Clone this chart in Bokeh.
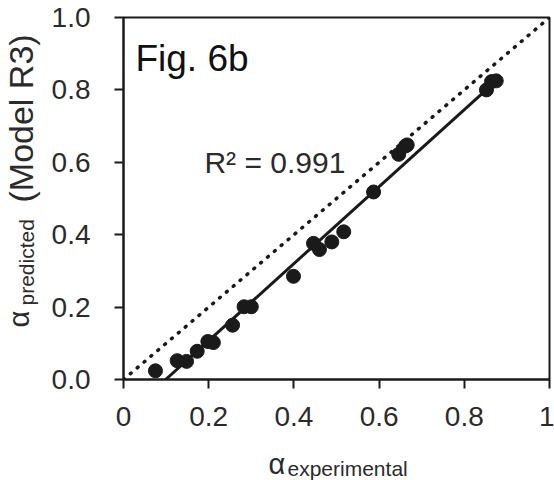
import math
from bokeh.plotting import figure
from bokeh.models import Range1d, FixedTicker, Label
from bokeh.layouts import row, column
from bokeh.embed import file_html
from bokeh.resources import INLINE

# ---- data ----
alpha_experimental = [0.075, 0.126, 0.148, 0.173, 0.198, 0.211, 0.256, 0.283, 0.300,
                      0.399, 0.446, 0.460, 0.489, 0.517, 0.587, 0.646, 0.662, 0.666,
                      0.852, 0.864, 0.875]
alpha_predicted = [0.024, 0.052, 0.050, 0.078, 0.105, 0.102, 0.150, 0.201, 0.201,
                   0.285, 0.376, 0.359, 0.380, 0.408, 0.518, 0.622, 0.645, 0.648,
                   0.800, 0.823, 0.825]
fit_x = [0.099, 0.871]
fit_y = [0.0, 0.821]
parity_x = [0.0, 1.0]
parity_y = [0.0, 1.0]
x_ticks = [0.0, 0.2, 0.4, 0.6, 0.8, 1.0]
x_tick_labels = ["0", "0.2", "0.4", "0.6", "0.8", "1"]
y_ticks = [0.0, 0.2, 0.4, 0.6, 0.8, 1.0]
y_tick_labels = ["0.0", "0.2", "0.4", "0.6", "0.8", "1.0"]
figure_tag = "Fig. 6b"
r2_text = "R² = 0.991"
x_title = ("α", "experimental")
y_title = ("α", "predicted", "(Model R3)")

FONT = "Liberation Sans"
INK = "#1a1a1a"
TXT = "#2b2b2b"

YLAB_W = 45
XLAB_H = 40
TOTAL_W = 554
TOTAL_H = 480
LEFT_BORDER = 123 - YLAB_W
RIGHT_BORDER = 5
FRAME_W = TOTAL_W - YLAB_W - LEFT_BORDER - RIGHT_BORDER

p = figure(width=TOTAL_W - YLAB_W, height=TOTAL_H - XLAB_H,
           output_backend="svg", toolbar_location=None,
           x_range=Range1d(0, 1), y_range=Range1d(0, 1),
           min_border_left=LEFT_BORDER, min_border_right=RIGHT_BORDER,
           min_border_top=17, min_border_bottom=61)

p.xgrid.visible = False
p.ygrid.visible = False
p.outline_line_color = INK
p.outline_line_width = 2
p.outline_line_alpha = 1.0
p.background_fill_color = "white"
p.border_fill_color = "white"

for ax, ticks, labels in ((p.xaxis[0], x_ticks, x_tick_labels), (p.yaxis[0], y_ticks, y_tick_labels)):
    ax.ticker = FixedTicker(ticks=ticks)
    ax.major_label_overrides = {t: l for t, l in zip(ticks, labels)}
    ax.minor_tick_line_color = None
    ax.major_tick_in = 0
    ax.major_tick_out = 9
    ax.major_tick_line_color = INK
    ax.major_tick_line_width = 2
    ax.axis_line_color = INK
    ax.axis_line_width = 2
    ax.major_label_text_font = FONT
    ax.major_label_text_font_size = "28px"
    ax.major_label_text_color = TXT

p.xaxis.major_label_standoff = 18
p.yaxis.major_label_standoff = 24

# parity (1:1) dotted line
p.line(parity_x, parity_y, line_color=INK, line_width=3.5, line_dash="1 8", line_cap="round")
# regression line
p.line(fit_x, fit_y, line_color=INK, line_width=3)
# points
p.scatter(alpha_experimental, alpha_predicted, marker="circle", size=14,
          fill_color=INK, line_color=INK)

# in-plot texts
p.add_layout(Label(x=0.028, y=0.887, text=figure_tag, text_font=FONT,
                   text_font_size="37px", text_color="#111111",
                   text_align="left", text_baseline="alphabetic"))
p.add_layout(Label(x=0.190, y=0.599, text=r2_text, text_font=FONT,
                   text_font_size="30px", text_color=TXT,
                   text_align="left", text_baseline="alphabetic"))


def title_canvas(w, h, left=0, right=0, xr=None):
    f = figure(width=w, height=h, output_backend="svg", toolbar_location=None,
               x_axis_type=None, y_axis_type=None,
               x_range=xr if xr is not None else Range1d(0, w), y_range=Range1d(0, h),
               min_border=0, min_border_left=left, min_border_right=right,
               min_border_top=0, min_border_bottom=0)
    f.outline_line_color = None
    f.background_fill_color = "white"
    f.border_fill_color = "white"
    return f


# x axis title strip: its frame lines up with the main frame (page x 123..549),
# label x positions are pixels from the frame's left edge
xt = title_canvas(TOTAL_W - YLAB_W, XLAB_H, left=LEFT_BORDER, right=RIGHT_BORDER,
                  xr=Range1d(0, FRAME_W))
xt.add_layout(Label(x=145, y=17, text=x_title[0], text_font=FONT, text_font_size="29px",
                    text_color=TXT, text_align="left", text_baseline="alphabetic"))
xt.add_layout(Label(x=164, y=12, text=x_title[1], text_font=FONT, text_font_size="21px",
                    text_color=TXT, text_align="left", text_baseline="alphabetic"))

# y axis title strip (rotated texts)
ang = math.pi / 2
yt = title_canvas(YLAB_W, TOTAL_H)
yt.add_layout(Label(x=18, y=153, text=y_title[0], text_font=FONT, text_font_size="29px",
                    text_color=TXT, angle=ang, text_align="left", text_baseline="middle"))
yt.add_layout(Label(x=26, y=175, text=y_title[1], text_font=FONT, text_font_size="21px",
                    text_color=TXT, angle=ang, text_align="left", text_baseline="middle"))
yt.add_layout(Label(x=20, y=278, text=y_title[2], text_font=FONT, text_font_size="34px",
                    text_color=TXT, angle=ang, text_align="left", text_baseline="middle"))

layout = row(yt, column(p, xt, spacing=0), spacing=0)

open("out.html", "w").write(file_html(layout, INLINE))
